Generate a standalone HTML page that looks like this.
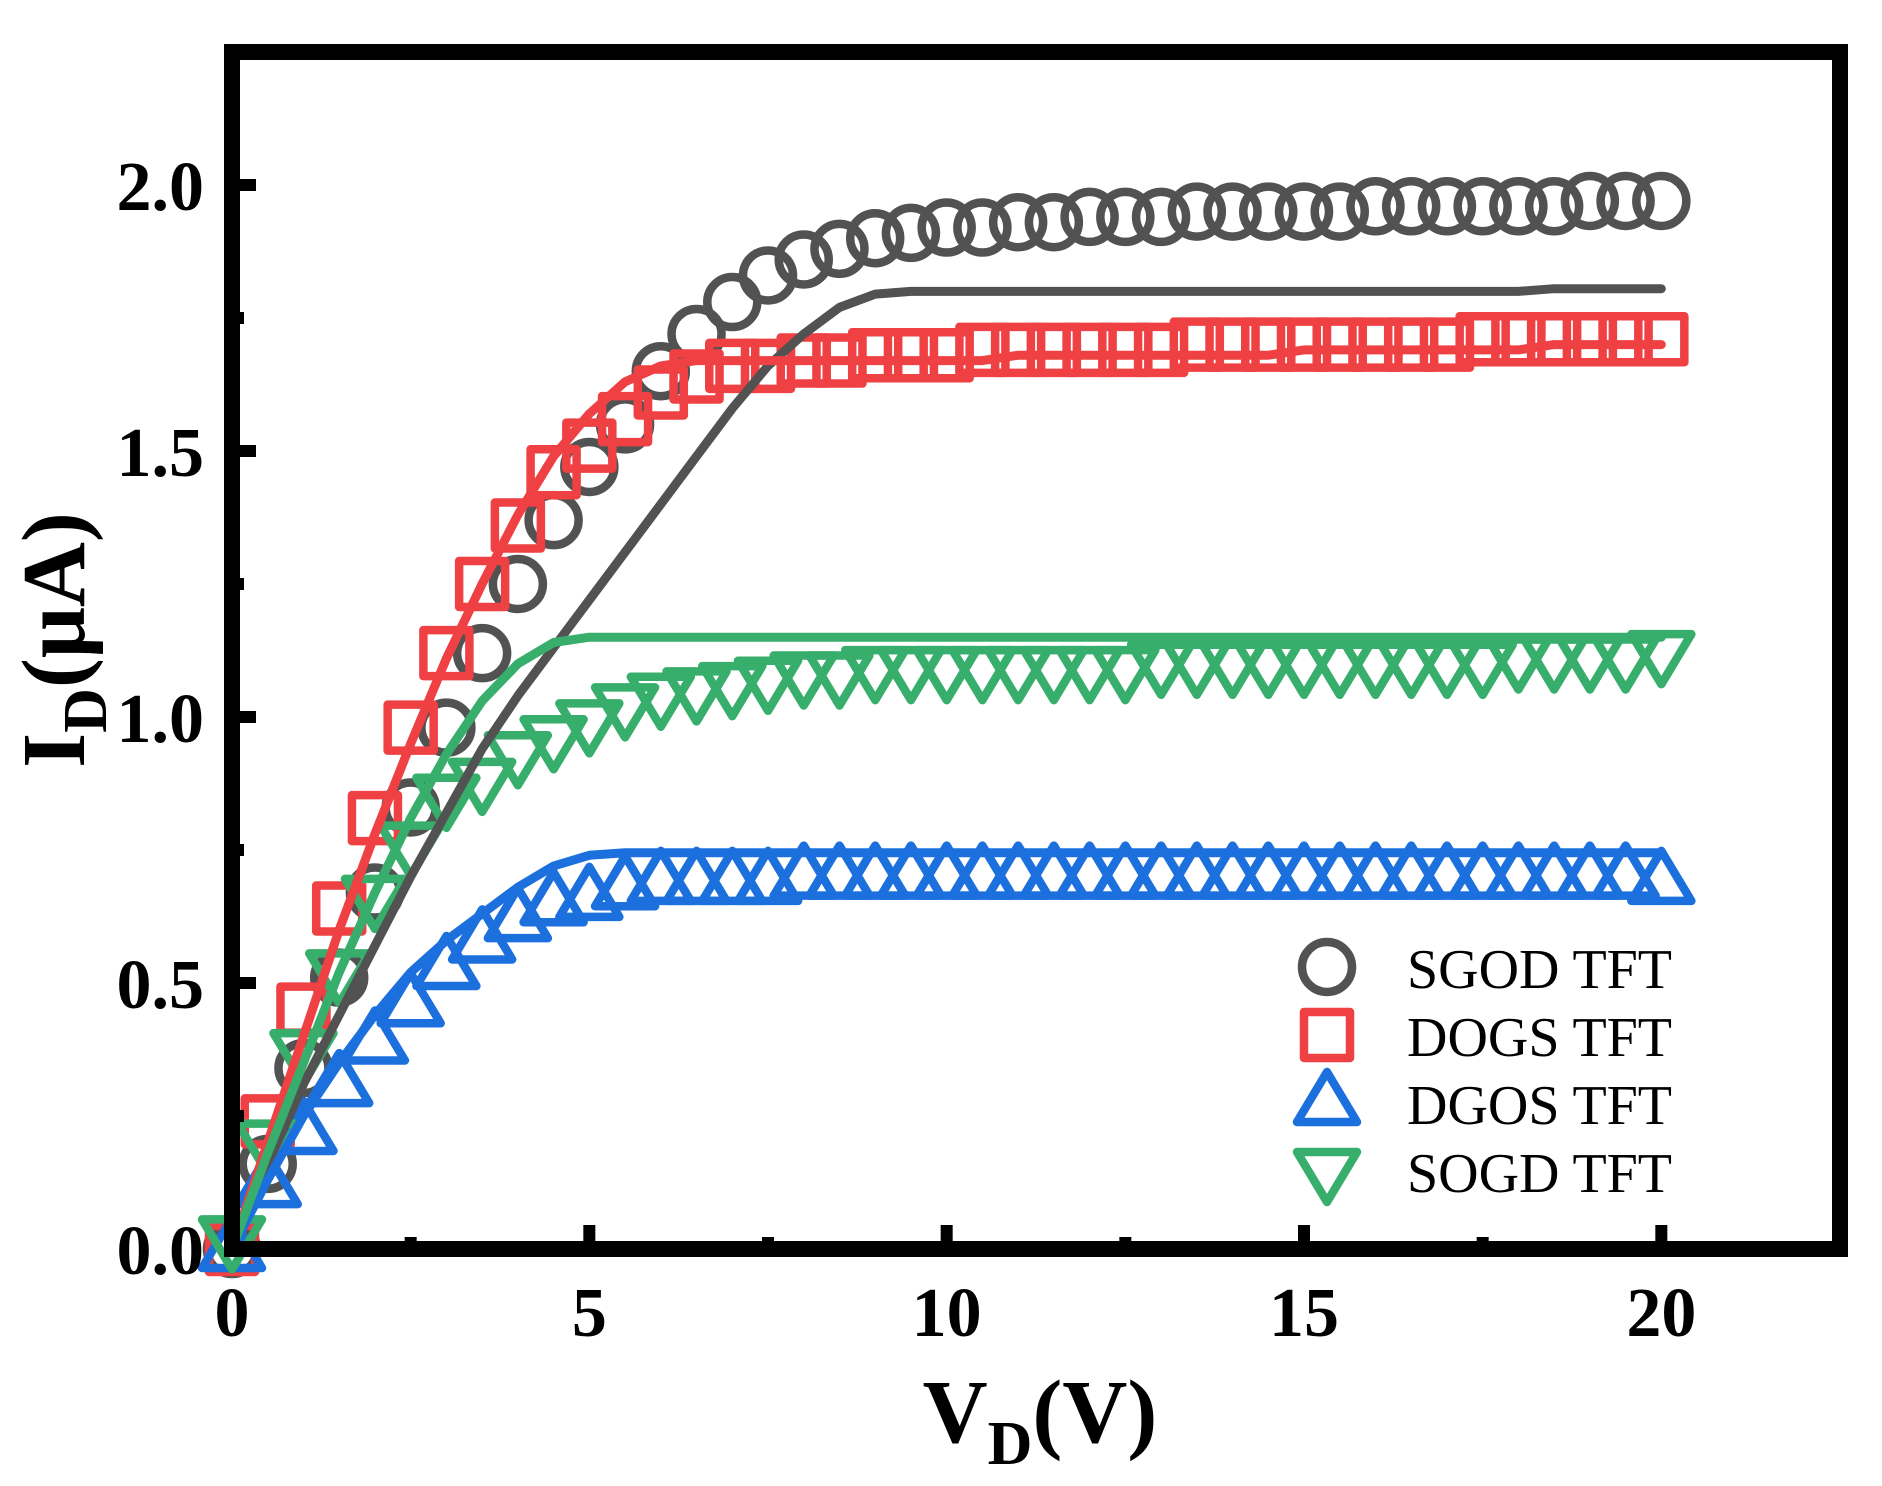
<!DOCTYPE html>
<html><head><meta charset="utf-8"><style>
html,body{margin:0;padding:0;background:#fff}
svg{display:block}
text{font-family:"Liberation Serif","DejaVu Serif",serif}
</style></head><body>
<svg id="chart" width="1882" height="1486" viewBox="0 0 1882 1486" xmlns="http://www.w3.org/2000/svg">
<rect x="0" y="0" width="1882" height="1486" fill="#fff"/>
<g id="marks"></g>
<g id="axes"></g>
<g id="legend"></g>
</svg>
<script>
const xs = [0,0.5,1,1.5,2,2.5,3,3.5,4,4.5,5,5.5,6,6.5,7,7.5,8,8.5,9,9.5,10,10.5,11,11.5,12,12.5,13,13.5,14,14.5,15,15.5,16,16.5,17,17.5,18,18.5,19,19.5,20];
const sgodPts = [0,0.16,0.34,0.51,0.67,0.83,0.98,1.12,1.25,1.37,1.47,1.55,1.65,1.72,1.78,1.83,1.86,1.88,1.90,1.91,1.92,1.92,1.93,1.93,1.94,1.94,1.94,1.95,1.95,1.95,1.95,1.95,1.96,1.96,1.96,1.96,1.96,1.96,1.97,1.97,1.97];
const dogsPts = [0,0.24,0.45,0.64,0.81,0.98,1.12,1.25,1.36,1.46,1.51,1.56,1.61,1.64,1.66,1.66,1.67,1.67,1.68,1.68,1.68,1.69,1.69,1.69,1.69,1.69,1.69,1.70,1.70,1.70,1.70,1.70,1.70,1.70,1.70,1.71,1.71,1.71,1.71,1.71,1.71];
const dgosPts = [0,0.12,0.22,0.31,0.39,0.46,0.53,0.58,0.62,0.65,0.66,0.68,0.69,0.69,0.69,0.69,0.70,0.70,0.70,0.70,0.70,0.70,0.70,0.70,0.70,0.70,0.70,0.70,0.70,0.70,0.70,0.70,0.70,0.70,0.70,0.70,0.70,0.70,0.70,0.70,0.69];
const sogdPts = [0.02,0.2,0.37,0.52,0.66,0.76,0.85,0.88,0.93,0.96,0.99,1.02,1.04,1.05,1.06,1.07,1.08,1.08,1.09,1.09,1.09,1.09,1.09,1.09,1.09,1.09,1.10,1.10,1.10,1.10,1.10,1.10,1.10,1.10,1.10,1.10,1.11,1.11,1.11,1.11,1.12];
const sgodFit = [0,0.16,0.31,0.44,0.57,0.70,0.82,0.94,1.04,1.13,1.22,1.31,1.40,1.49,1.58,1.66,1.72,1.77,1.795,1.80,1.80,1.80,1.80,1.80,1.80,1.80,1.80,1.80,1.80,1.80,1.80,1.80,1.80,1.80,1.80,1.80,1.80,1.805,1.805,1.805,1.805];
const dogsFit = [0,0.2,0.4,0.6,0.78,0.95,1.11,1.25,1.38,1.49,1.57,1.63,1.66,1.67,1.67,1.67,1.67,1.67,1.67,1.67,1.67,1.67,1.68,1.68,1.68,1.68,1.68,1.68,1.68,1.68,1.69,1.69,1.69,1.69,1.69,1.69,1.69,1.70,1.70,1.70,1.70];
const dgosFit = [0,0.13,0.25,0.35,0.44,0.52,0.58,0.63,0.68,0.72,0.74,0.745,0.745,0.745,0.745,0.745,0.745,0.745,0.745,0.745,0.745,0.745,0.745,0.745,0.745,0.745,0.745,0.745,0.745,0.745,0.745,0.745,0.745,0.745,0.745,0.745,0.745,0.745,0.745,0.745,0.745];
const sogdFit = [0,0.18,0.35,0.52,0.67,0.81,0.93,1.03,1.10,1.14,1.15,1.15,1.15,1.15,1.15,1.15,1.15,1.15,1.15,1.15,1.15,1.15,1.15,1.15,1.15,1.15,1.15,1.15,1.15,1.15,1.15,1.15,1.15,1.15,1.15,1.15,1.15,1.15,1.15,1.15,1.15];
const xTicks = [0,5,10,15,20];
const xTickLabels = ["0","5","10","15","20"];
const yTicks = [0,0.5,1.0,1.5,2.0];
const yTickLabels = ["0.0","0.5","1.0","1.5","2.0"];
const legendLabels = ["SGOD TFT","DOGS TFT","DGOS TFT","SOGD TFT"];

const NS = "http://www.w3.org/2000/svg";
const L = 232, R = 1840, T = 52, B = 1249;
const XMAX = 22.5, YMAX = 2.25;
function X(v){ return L + v/XMAX*(R-L); }
function Y(v){ return B - v/YMAX*(B-T); }
function mk(tag, attrs, parent){ const e=document.createElementNS(NS,tag); for(const k in attrs) e.setAttribute(k,attrs[k]); parent.appendChild(e); return e; }
const marks = document.getElementById('marks');
const axes = document.getElementById('axes');
const legend = document.getElementById('legend');
const SW = 8.5;
function marker(type, cx, cy, color, parent){
  let e;
  if(type==='circle'){ e = mk('circle',{cx:cx,cy:cy,r:25,fill:'none',stroke:color,'stroke-width':SW},parent); }
  else if(type==='square'){ e = mk('rect',{x:cx-23,y:cy-23,width:46,height:46,fill:'none',stroke:color,'stroke-width':SW,'stroke-linejoin':'round'},parent); }
  else if(type==='up'){ e = mk('polygon',{points:`${cx},${cy-31} ${cx+30},${cy+19} ${cx-30},${cy+19}`,fill:'none',stroke:color,'stroke-width':SW,'stroke-linejoin':'round'},parent); }
  else { e = mk('polygon',{points:`${cx},${cy+31} ${cx+30},${cy-19} ${cx-30},${cy-19}`,fill:'none',stroke:color,'stroke-width':SW,'stroke-linejoin':'round'},parent); }
  return e;
}
const series = [
  {name:'sgod',pts:sgodPts,fit:sgodFit,color:'#525252',type:'circle'},
  {name:'dogs',pts:dogsPts,fit:dogsFit,color:'#EF4043',type:'square'},
  {name:'dgos',pts:dgosPts,fit:dgosFit,color:'#1C70DD',type:'up'},
  {name:'sogd',pts:sogdPts,fit:sogdFit,color:'#37AE6B',type:'down'}
];
series.forEach(s=>{
  const g = mk('g',{},marks);
  
  
  s.pts.forEach((v,i)=>{
    const m = marker(s.type, X(xs[i]), Y(v), s.color, g);
    
    
  });
});
series.forEach(s=>{
  const d = s.fit.map((v,i)=>(i?'L':'M')+X(xs[i]).toFixed(1)+','+Y(v).toFixed(1)).join(' ');
  const p = mk('path',{d:d,fill:'none',stroke:s.color,'stroke-width':9,'stroke-linejoin':'round','stroke-linecap':'round'},marks);
  
  
});
const frame = mk('rect',{x:L,y:T,width:R-L,height:B-T,fill:'none',stroke:'#000','stroke-width':16},axes);


xTicks.forEach((v,i)=>{
  const t = mk('line',{x1:X(v),x2:X(v),y1:B,y2:B-24,stroke:'#000','stroke-width':12},axes);
  
  
  const m = mk('line',{x1:X(v+2.5),x2:X(v+2.5),y1:B,y2:B-12,stroke:'#000','stroke-width':12},axes);
  
  
  const tx = mk('text',{x:X(v),y:1336,'text-anchor':'middle','font-size':70,'font-weight':'bold',fill:'#000'},axes);
  tx.textContent = xTickLabels[i];
  
  
});
yTicks.forEach((v,i)=>{
  const t = mk('line',{x1:L,x2:L+24,y1:Y(v),y2:Y(v),stroke:'#000','stroke-width':12},axes);
  
  
  const m = mk('line',{x1:L,x2:L+12,y1:Y(v+0.25),y2:Y(v+0.25),stroke:'#000','stroke-width':12},axes);
  
  
  const tx = mk('text',{x:204,y:Y(v)+25,'text-anchor':'end','font-size':70,'font-weight':'bold',fill:'#000'},axes);
  tx.textContent = yTickLabels[i];
  
  
});
legendLabels.forEach((lab,i)=>{
  const cy = 967 + i*68;
  const m = marker(series[i].type, 1327, cy, series[i].color, legend);
  
  
  const tx = mk('text',{x:1407,y:cy+21,'font-size':56,fill:'#000'},legend);
  tx.textContent = lab;
  
  
});
</script>
<svg style="position:absolute;left:0;top:0" width="1882" height="1486" xmlns="http://www.w3.org/2000/svg">
<text x="1040" y="1442" text-anchor="middle" font-size="90" font-weight="bold" fill="#000">V<tspan font-size="62" dy="22">D</tspan><tspan dy="-22">(V)</tspan></text>
<text transform="translate(84,640) rotate(-90)" text-anchor="middle" font-size="90" font-weight="bold" fill="#000">I<tspan font-size="62" dy="22">D</tspan><tspan dy="-22">(μA)</tspan></text>
</svg>
</body></html>
